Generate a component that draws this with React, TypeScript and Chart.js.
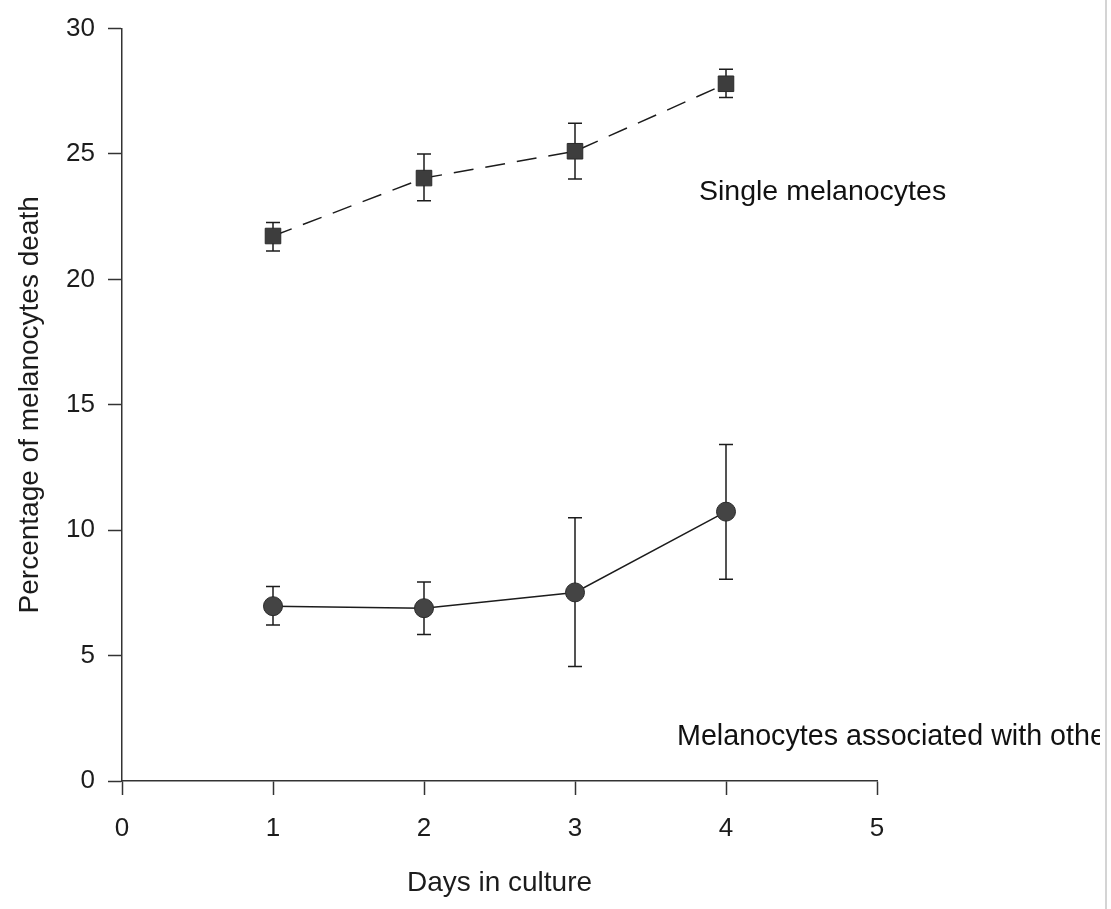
import React, { useEffect, useRef } from "react";
import { Chart, registerables } from "chart.js";

Chart.register(...registerables);

// ---- data ----
const days = [1, 2, 3, 4];
const singleMean = [21.73, 24.04, 25.11, 27.8];
const singleUpper = [22.27, 25.0, 26.23, 28.38];
const singleLower = [21.13, 23.14, 24.0, 27.25];
const assocMean = [6.97, 6.89, 7.52, 10.74];
const assocUpper = [7.76, 7.93, 10.5, 13.42];
const assocLower = [6.22, 5.84, 4.57, 8.04];
const xTicks = [0, 1, 2, 3, 4, 5];
const yTicks = [0, 5, 10, 15, 20, 25, 30];
const singleLabel = "Single melanocytes";
const assocLabel = "Melanocytes associated with other";
const xTitle = "Days in culture";
const yTitle = "Percentage of melanocytes death";

const FONT = '"Liberation Sans", Arial, Helvetica, sans-serif';
const INK = "#1c1c1c";

const errorSets = [
  { upper: singleUpper, lower: singleLower },
  { upper: assocUpper, lower: assocLower },
];

const errorBarPlugin = {
  id: "errorBars",
  beforeDatasetsDraw(chart: any) {
    const { ctx, scales } = chart;
    const xs = scales.x;
    const ys = scales.y;
    ctx.save();
    ctx.strokeStyle = INK;
    ctx.lineWidth = 1.5;
    errorSets.forEach((set) => {
      days.forEach((d, i) => {
        const px = xs.getPixelForValue(d);
        const top = ys.getPixelForValue(set.upper[i]);
        const bot = ys.getPixelForValue(set.lower[i]);
        const cap = 7;
        ctx.beginPath();
        ctx.moveTo(px, top);
        ctx.lineTo(px, bot);
        ctx.moveTo(px - cap, top);
        ctx.lineTo(px + cap, top);
        ctx.moveTo(px - cap, bot);
        ctx.lineTo(px + cap, bot);
        ctx.stroke();
      });
    });
    ctx.restore();
  },
};

const textPlugin = {
  id: "seriesText",
  afterDraw(chart: any) {
    const { ctx } = chart;
    ctx.save();
    ctx.fillStyle = "#111111";
    ctx.textBaseline = "alphabetic";
    ctx.textAlign = "left";
    ctx.font = `28.5px ${FONT}`;
    ctx.fillText(singleLabel, 699, 200);
    ctx.beginPath();
    ctx.rect(0, 0, 1100, 909);
    ctx.clip();
    ctx.font = `28.7px ${FONT}`;
    ctx.fillText(assocLabel, 677, 745);
    ctx.restore();
    // scanned page edge
    ctx.save();
    ctx.strokeStyle = "#d4d4d4";
    ctx.lineWidth = 2;
    ctx.beginPath();
    ctx.moveTo(1106, 0);
    ctx.lineTo(1106, 909);
    ctx.stroke();
    ctx.restore();
  },
};

export default function App() {
  const ref = useRef<HTMLCanvasElement | null>(null);

  useEffect(() => {
    if (!ref.current) return;
    const chart = new Chart(ref.current, {
      type: "scatter",
      data: {
        datasets: [
          {
            label: singleLabel,
            data: days.map((d, i) => ({ x: d, y: singleMean[i] })),
            showLine: true,
            borderColor: INK,
            borderWidth: 1.5,
            borderDash: [20, 12],
            pointStyle: "rect",
            pointRadius: 11,
            pointBackgroundColor: "#3d3d3d",
            pointBorderColor: "#2a2a2a",
            pointBorderWidth: 1,
          },
          {
            label: assocLabel,
            data: days.map((d, i) => ({ x: d, y: assocMean[i] })),
            showLine: true,
            borderColor: INK,
            borderWidth: 1.5,
            pointStyle: "circle",
            pointRadius: 9.5,
            pointBackgroundColor: "#444444",
            pointBorderColor: "#2a2a2a",
            pointBorderWidth: 1,
          },
        ],
      },
      options: {
        animation: false,
        responsive: false,
        events: [],
        layout: { padding: { left: 0, right: 234, top: 26, bottom: 0 } },
        plugins: {
          legend: { display: false },
          tooltip: { enabled: false },
        },
        scales: {
          x: {
            type: "linear",
            min: 0,
            max: 5,
            afterBuildTicks: (scale: any) => {
              scale.ticks = xTicks.map((v) => ({ value: v }));
            },
            afterFit: (scale: any) => {
              scale.height = 128;
            },
            grid: {
              display: true,
              drawOnChartArea: false,
              drawTicks: true,
              tickLength: 14,
              tickColor: "#333",
              tickWidth: 1.5,
            },
            border: { display: true, color: "#333", width: 1.5 },
            ticks: {
              color: INK,
              font: { family: FONT, size: 26 },
              padding: 18,
              maxRotation: 0,
              autoSkip: false,
            },
            title: {
              display: true,
              text: xTitle,
              color: INK,
              font: { family: FONT, size: 28 },
              padding: { top: 0, bottom: 9 },
            },
          },
          y: {
            type: "linear",
            min: 0,
            max: 30,
            afterBuildTicks: (scale: any) => {
              scale.ticks = yTicks.map((v) => ({ value: v }));
            },
            afterFit: (scale: any) => {
              scale.width = 122;
            },
            grid: {
              display: true,
              drawOnChartArea: false,
              drawTicks: true,
              tickLength: 14,
              tickColor: "#333",
              tickWidth: 1.5,
            },
            border: { display: true, color: "#333", width: 1.5 },
            ticks: {
              color: INK,
              font: { family: FONT, size: 26 },
              padding: 13,
              autoSkip: false,
            },
            title: {
              display: true,
              text: yTitle,
              color: INK,
              font: { family: FONT, size: 28 },
              padding: { top: 13, bottom: 0 },
            },
          },
        },
      },
      plugins: [errorBarPlugin, textPlugin],
    } as any);
    return () => chart.destroy();
  }, []);

  return (
    <div style={{ position: "absolute", left: 0, top: 0, width: 1111, height: 909, background: "#fff" }}>
      <canvas ref={ref} width={1111} height={909} style={{ display: "block" }} />
    </div>
  );
}
